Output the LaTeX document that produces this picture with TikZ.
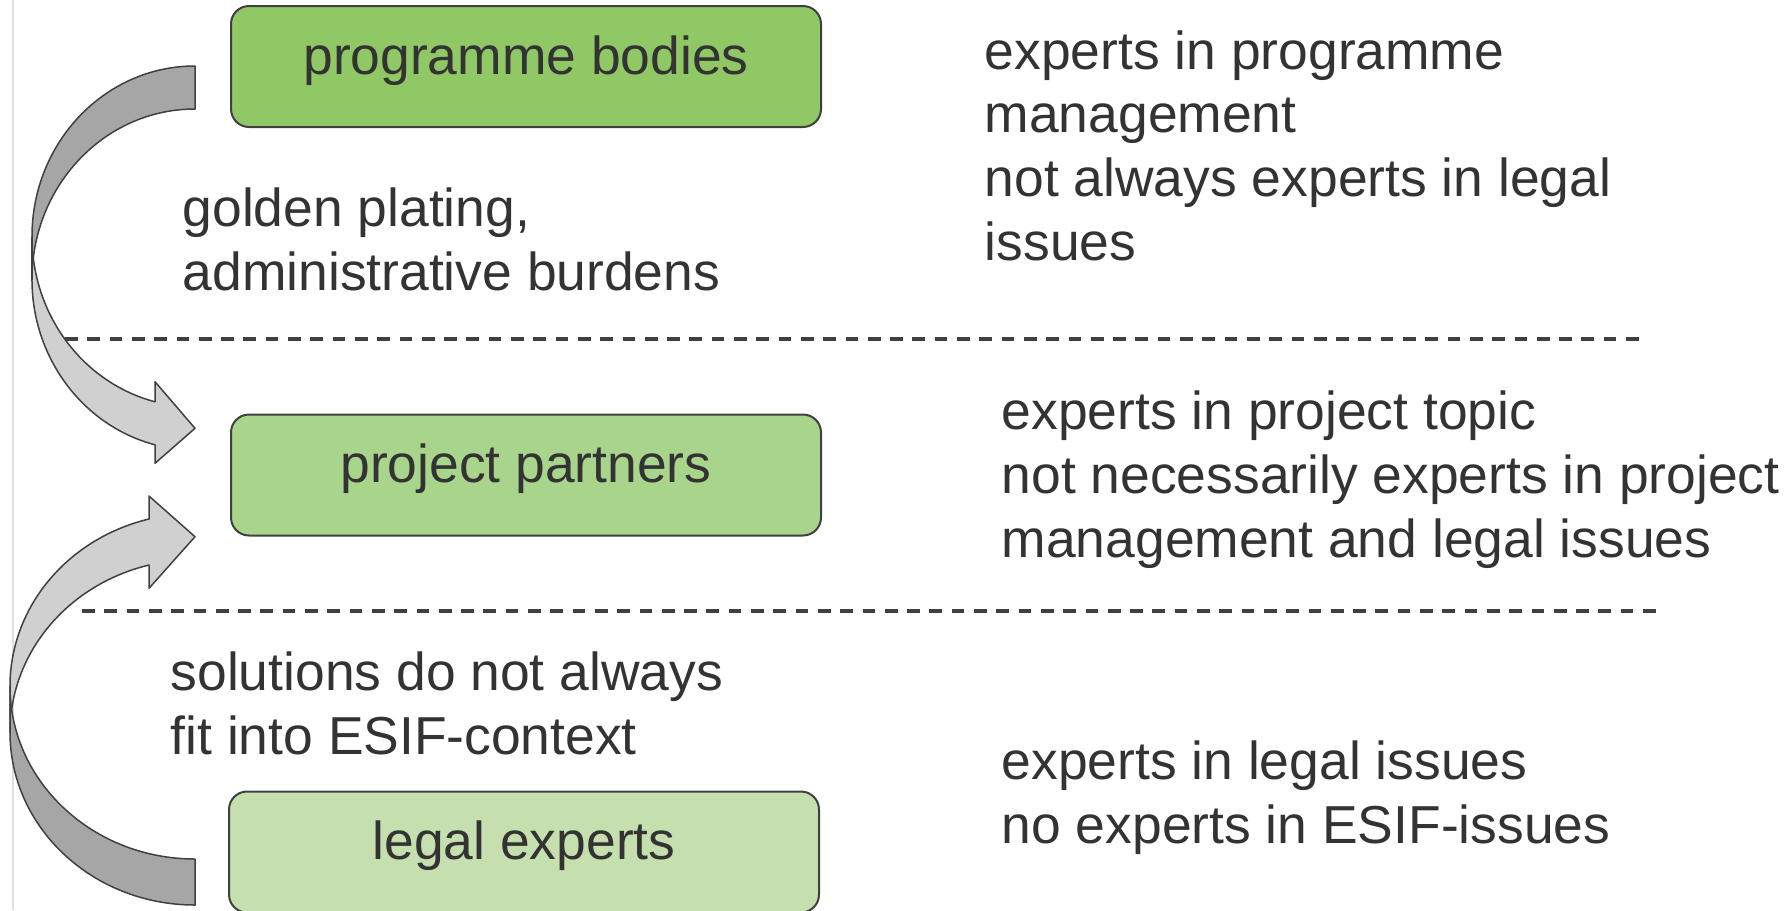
\documentclass[tikz,border=0pt]{standalone}
\usepackage{fontspec}
\setmainfont{Liberation Sans}
\definecolor{bodiesgreen}{HTML}{90C865}
\definecolor{partnersgreen}{HTML}{A9D48C}
\definecolor{legalgreen}{HTML}{C5E0AE}
\definecolor{textgray}{HTML}{333333}
\definecolor{linegray}{HTML}{404040}
\definecolor{backgray}{HTML}{A6A6A6}
\definecolor{frontgray}{HTML}{D0D0D0}

\begin{document}
\begin{tikzpicture}[x=0.1mm, y=0.1mm]
	\tikzstyle{every node}=[text=textgray, font=\fontsize{15.2}{18.1}\selectfont, inner sep=0pt]
	\tikzstyle{group}=[draw=linegray, line width=0.2mm, rounded corners=1.8mm,
		minimum width=59mm, minimum height=12.1mm, text height=4mm, text depth=2.5mm]
	\tikzstyle{remark}=[align=left, anchor=base west]
	\tikzstyle{divider}=[draw=linegray, line width=0.32mm, dash pattern=on 1.27mm off 0.96mm]
	\tikzstyle{band}=[draw=linegray, line width=0.15mm, line join=round]
	\useasboundingbox (0,0) rectangle (1792,910);
	\clip (0,0) rectangle (1792,910);
	\draw[gray!25] (13,0) -- (13,910);
	
	\node[group, fill=bodiesgreen] (bodies) at (526,843.5) {programme bodies};
	\node[group, fill=partnersgreen] (partners) at (526,435) {project partners};
	\node[group, fill=legalgreen] (legal) at (524,58) {legal experts};
	
	\node[remark] (plating) at (182,620) {golden plating,\\administrative burdens};
	\node[remark] (context) at (170,156) {solutions do not always\\fit into ESIF-context};
	\node[remark] (bodiesnote) at (984,650) {experts in programme\\management\\not always experts in legal\\issues};
	\node[remark] (partnersnote) at (1001,353) {experts in project topic\\not necessarily experts in project\\management and legal issues};
	\node[remark] (legalnote) at (1001,67) {experts in legal issues\\no experts in ESIF-issues};
	
	\draw[divider] (65,571) -- (1646,571);
	\draw[divider] (82,299) -- (1663,299);
	
	\filldraw[band, fill=frontgray] (32,673.5) arc[start angle=180, end angle=255.8, x radius=163, y radius=170.5]
		-- (155,528.3) -- (195,481.7) -- (155,446.7) -- (155,465.2)
		arc[start angle=255.8, end angle=180, x radius=163, y radius=170.5] -- cycle;
	\filldraw[band, fill=backgray] (195,844) arc[start angle=90, end angle=180, x radius=163, y radius=170.5]
		-- (32,630.5) arc[start angle=180, end angle=90, x radius=163, y radius=170.5] -- cycle;
	
	\filldraw[band, fill=frontgray] (10,177.7) arc[start angle=180, end angle=104.4, x radius=185, y radius=172.7]
		-- (149,321.7) -- (195,373.3) -- (149,414) -- (149,391)
		arc[start angle=104.4, end angle=180, x radius=185, y radius=172.7] -- cycle;
	\filldraw[band, fill=backgray] (195,5) arc[start angle=270, end angle=180, x radius=185, y radius=172.7]
		-- (10,223.7) arc[start angle=180, end angle=270, x radius=185, y radius=172.7] -- cycle;
\end{tikzpicture}
\end{document}
